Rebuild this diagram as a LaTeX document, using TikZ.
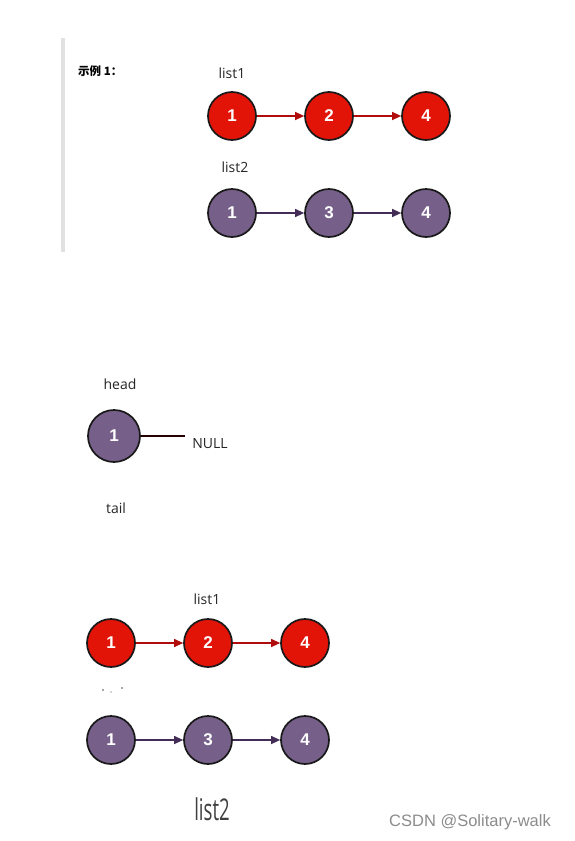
\documentclass[tikz,border=0pt]{standalone}
\usepackage{fontspec}
\setmainfont{Liberation Sans}
\newfontfamily\labfont{Open Sans}
\newfontfamily\cjkfont{Noto Sans CJK SC}
\usetikzlibrary{arrows.meta}
\definecolor{rednode}{RGB}{226,20,8}
\definecolor{redline}{RGB}{176,12,12}
\definecolor{purpnode}{RGB}{118,96,138}
\definecolor{purpline}{RGB}{67,45,87}
\definecolor{barcol}{RGB}{225,225,225}
\tikzset{
  rnode/.style={circle,draw=black!90,line width=1.7pt,fill=rednode,minimum size=48pt,inner sep=0pt,text=white,font=\fontsize{17}{17}\selectfont\bfseries},
  pnode/.style={circle,draw=black!90,line width=1.7pt,fill=purpnode,minimum size=48pt,inner sep=0pt,text=white,font=\fontsize{17}{17}\selectfont\bfseries},
  rarrow/.style={draw=redline,line width=1.2pt,-{Triangle[length=9pt,width=8pt]}},
  parrow/.style={draw=purpline,line width=1.2pt,-{Triangle[length=9pt,width=8pt]}},
  lab/.style={font=\labfont\fontsize{14}{14}\selectfont,text=black!85,inner sep=0pt}
}
\begin{document}
\begin{tikzpicture}[x=1pt,y=-1pt]
\useasboundingbox[fill=white] (0,0) rectangle (574,841);
% top block
\fill[barcol] (61,38) rectangle (65,252);
\node[inner sep=0pt,anchor=west,font=\cjkfont\bfseries\fontsize{11.5}{11.5}\selectfont] (ex) at (78,71) {示例 1：};
\node[lab] (l1a) at (232,73) {list1};
\node[rnode] (a1) at (232,116) {1};
\node[rnode] (a2) at (329,116) {2};
\node[rnode] (a3) at (426,116) {4};
\draw[rarrow] (a1) -- (a2);
\draw[rarrow] (a2) -- (a3);
\node[lab] (l2a) at (235,167) {list2};
\node[pnode] (b1) at (232,213) {1};
\node[pnode] (b2) at (329,213) {3};
\node[pnode] (b3) at (426,213) {4};
\draw[parrow] (b1) -- (b2);
\draw[parrow] (b2) -- (b3);
% middle
\node[lab] (head) at (120,384) {head};
\node[pnode,minimum size=52pt] (h1) at (114,436) {1};
\coordinate (nullend) at (185,436);
\draw[line width=1.4pt,draw=black!85!red] (h1) -- (nullend);
\node[lab] (null) at (210,444) {NULL};
\node[lab] (tail) at (116,508) {tail};
% bottom
\node[lab] (l1b) at (207,599) {list1};
\node[rnode] (c1) at (111,643) {1};
\node[rnode] (c2) at (208,643) {2};
\node[rnode] (c3) at (305,643) {4};
\draw[rarrow] (c1) -- (c2);
\draw[rarrow] (c2) -- (c3);
\fill[black!70] (103,690) circle (0.8pt);
\fill[black!70] (111,692) circle (0.7pt);
\fill[black!70] (122,688) circle (0.9pt);
\node[pnode] (d1) at (111,740) {1};
\node[pnode] (d2) at (208,740) {3};
\node[pnode] (d3) at (305,740) {4};
\draw[parrow] (d1) -- (d2);
\draw[parrow] (d2) -- (d3);
\node[inner sep=0pt,text=black!75] (l2b) at (212,809) {\scalebox{0.62}[1]{\labfont\fontsize{30}{30}\selectfont list2}};
\node[inner sep=0pt,text=black!45,font=\fontsize{16.5}{16.5}\selectfont] (wm) at (470,822) {CSDN @Solitary-walk};
\end{tikzpicture}
\end{document}
